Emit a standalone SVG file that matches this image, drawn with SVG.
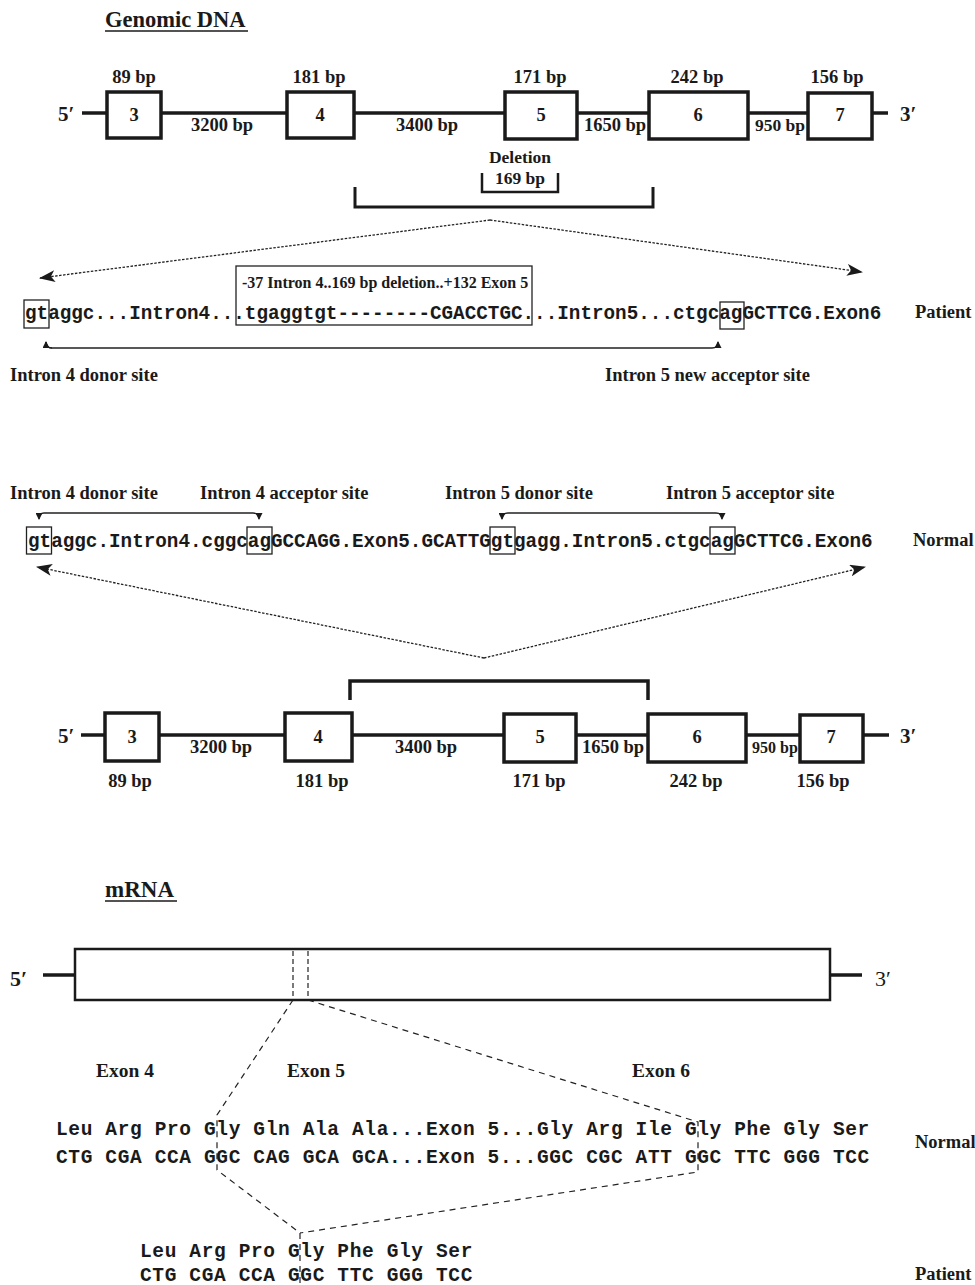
<svg xmlns="http://www.w3.org/2000/svg" width="975" height="1285" viewBox="0 0 975 1285">
<defs>
<style>
.t{font-family:"Liberation Serif","Times New Roman",serif;font-weight:bold;fill:#1a1a1a;font-size:18.5px}
.c{text-anchor:middle}
.m{font-family:"Liberation Mono","Courier New",monospace;font-weight:bold;fill:#1a1a1a;font-size:19.3px}
.aa{font-family:"Liberation Mono","Courier New",monospace;font-weight:bold;fill:#1a1a1a;font-size:19.5px;letter-spacing:0.63px}
.ln{stroke:#1a1a1a;stroke-width:3.5;fill:none}
.box{fill:#fff;stroke:#1a1a1a;stroke-width:3.5}
.br{fill:none;stroke:#1a1a1a;stroke-width:3}
.dot{fill:none;stroke:#222;stroke-width:1.3;stroke-dasharray:2.5 1.5}
.dash{fill:none;stroke:#222;stroke-width:1.2;stroke-dasharray:6 5}
.sb{fill:none;stroke:#222;stroke-width:1.3}
.thin{fill:none;stroke:#222;stroke-width:1.3}
</style>
<marker id="ah" markerUnits="userSpaceOnUse" markerWidth="16" markerHeight="12" refX="15" refY="6" orient="auto">
<path d="M0,0 L16,6 L0,12 L4,6 Z" fill="#1a1a1a"/>
</marker>
<marker id="sh" markerUnits="userSpaceOnUse" markerWidth="7" markerHeight="7" refX="6" refY="3.5" orient="auto">
<path d="M0,0 L7,3.5 L0,7 Z" fill="#1a1a1a"/>
</marker>
</defs>
<rect width="975" height="1285" fill="#fff"/>

<!-- Title -->
<g id="title-genomic">
<text class="t" x="105" y="27" style="font-size:22.5px">Genomic DNA</text>
<line x1="105" y1="31" x2="248" y2="31" stroke="#1a1a1a" stroke-width="1.6"/>
</g>

<!-- Top genomic gene (patient) -->
<g id="gene-top">
<line class="ln" x1="82" y1="113" x2="888" y2="113"/>
<text class="t" x="58" y="121" style="font-size:21px">5′</text>
<text class="t" x="900" y="121" style="font-size:21px">3′</text>
<g id="top-exon3"><rect class="box" x="107" y="92" width="54" height="46"/><text class="t c" x="134" y="121">3</text><text class="t c" x="134" y="83">89 bp</text></g>
<g id="top-exon4"><rect class="box" x="287" y="92" width="67" height="46"/><text class="t c" x="320" y="121">4</text><text class="t c" x="319" y="83">181 bp</text></g>
<g id="top-exon5"><rect class="box" x="505" y="92" width="72" height="47"/><text class="t c" x="541" y="121">5</text><text class="t c" x="540" y="83">171 bp</text></g>
<g id="top-exon6"><rect class="box" x="649" y="92" width="99" height="47"/><text class="t c" x="698" y="121">6</text><text class="t c" x="697" y="83">242 bp</text></g>
<g id="top-exon7"><rect class="box" x="808" y="93" width="64" height="46"/><text class="t c" x="840" y="121">7</text><text class="t c" x="837" y="83">156 bp</text></g>
<text class="t c" x="222" y="131">3200 bp</text>
<text class="t c" x="427" y="131">3400 bp</text>
<text class="t c" x="615" y="131">1650 bp</text>
<text class="t c" x="780" y="131" style="font-size:17.5px">950 bp</text>
<g id="deletion">
<text class="t c" x="520" y="163" style="font-size:17.5px">Deletion</text>
<text class="t c" x="520" y="184" style="font-size:17.5px">169 bp</text>
<path d="M482,173 V192 H558 V173" fill="none" stroke="#1a1a1a" stroke-width="2.5"/>
</g>
<path class="br" d="M355,187 V207 H653 V187"/>
</g>

<!-- Patient sequence -->
<g id="patient-seq">
<text class="m" x="25" y="319" xml:space="preserve">gtaggc...Intron4...tgaggtgt--------CGACCTGC...Intron5...ctgcagGCTTCG.Exon6</text>
<rect class="sb" x="24" y="300" width="25" height="28"/>
<rect class="sb" x="720" y="302" width="24" height="27"/>
<rect class="sb" x="236" y="266" width="296" height="59"/>
<text class="t" x="242" y="288" style="font-size:16px">-37 Intron 4..169 bp deletion..+132 Exon 5</text>
<text class="t" x="915" y="318">Patient</text>
<path class="thin" d="M46,342 Q46,348 52,348 H712 Q718,348 718,342" marker-end="url(#sh)"/>
<path class="thin" d="M52,348 Q46,348 46,342" marker-end="url(#sh)"/>
<text class="t" x="10" y="381">Intron 4 donor site</text>
<text class="t" x="605" y="381">Intron 5 new acceptor site</text>
</g>

<!-- Normal sequence -->
<g id="normal-seq">
<text class="t" x="10" y="499">Intron 4 donor site</text>
<text class="t" x="200" y="499">Intron 4 acceptor site</text>
<text class="t" x="445" y="499">Intron 5 donor site</text>
<text class="t" x="666" y="499">Intron 5 acceptor site</text>
<path class="thin" d="M44,513 H253 Q259,513 259,519" marker-end="url(#sh)"/>
<path class="thin" d="M44,513 Q39,513 39,519" marker-end="url(#sh)"/>
<path class="thin" d="M508,513 H716 Q722,513 722,519" marker-end="url(#sh)"/>
<path class="thin" d="M508,513 Q502,513 502,519" marker-end="url(#sh)"/>
<text class="m" x="28" y="547">gtaggc.Intron4.cggcagGCCAGG.Exon5.GCATTGgtgagg.Intron5.ctgcagGCTTCG.Exon6</text>
<rect class="sb" x="26.5" y="527" width="25" height="27"/>
<rect class="sb" x="247" y="527" width="25" height="27"/>
<rect class="sb" x="490" y="527" width="25" height="27"/>
<rect class="sb" x="710" y="527" width="25" height="27"/>
<text class="t" x="913" y="546">Normal</text>
</g>

<!-- Bottom genomic gene (normal) -->
<g id="gene-bottom">
<line class="ln" x1="81" y1="735" x2="889" y2="735"/>
<text class="t" x="58" y="743" style="font-size:21px">5′</text>
<text class="t" x="900" y="743" style="font-size:21px">3′</text>
<g id="bot-exon3"><rect class="box" x="105" y="713" width="54" height="48"/><text class="t c" x="132" y="743">3</text><text class="t c" x="130" y="787">89 bp</text></g>
<g id="bot-exon4"><rect class="box" x="285" y="713" width="67" height="48"/><text class="t c" x="318" y="743">4</text><text class="t c" x="322" y="787">181 bp</text></g>
<g id="bot-exon5"><rect class="box" x="504" y="714" width="72" height="48"/><text class="t c" x="540" y="743">5</text><text class="t c" x="539" y="787">171 bp</text></g>
<g id="bot-exon6"><rect class="box" x="648" y="714" width="98" height="48"/><text class="t c" x="697" y="743">6</text><text class="t c" x="696" y="787">242 bp</text></g>
<g id="bot-exon7"><rect class="box" x="800" y="715" width="63" height="47"/><text class="t c" x="831" y="743">7</text><text class="t c" x="823" y="787">156 bp</text></g>
<text class="t c" x="221" y="753">3200 bp</text>
<text class="t c" x="426" y="753">3400 bp</text>
<text class="t c" x="613" y="753">1650 bp</text>
<text class="t c" x="775" y="753" style="font-size:16px">950 bp</text>
<path class="ln" d="M350,700 V681 H648 V700"/>
</g>

<!-- Connectors -->
<g id="connectors">
<path class="dot" d="M490,220 L40,278" marker-end="url(#ah)"/>
<path class="dot" d="M490,220 L862,272" marker-end="url(#ah)"/>
<path class="dot" d="M484,658 L37,567" marker-end="url(#ah)"/>
<path class="dot" d="M484,658 L865,567" marker-end="url(#ah)"/>
<path class="dash" d="M293,1000 L217,1115 L217,1170 L300,1233 L300,1285"/>
<path class="dash" d="M308,1000 L698,1122 L698,1172 L300,1233"/>
</g>

<!-- mRNA -->
<g id="mrna">
<text class="t" x="105" y="897" style="font-size:23px">mRNA</text>
<line x1="105" y1="901" x2="177" y2="901" stroke="#1a1a1a" stroke-width="1.6"/>
<line class="ln" x1="43" y1="975" x2="75" y2="975"/>
<line class="ln" x1="830" y1="975" x2="862" y2="975"/>
<rect x="75" y="949" width="755" height="51" fill="none" stroke="#1a1a1a" stroke-width="2.5"/>
<line class="dash" x1="293" y1="951" x2="293" y2="998" style="stroke-dasharray:5 3"/>
<line class="dash" x1="308" y1="951" x2="308" y2="998" style="stroke-dasharray:5 3"/>
<text class="t" x="10" y="986" style="font-size:22px">5′</text>
<text class="t" x="875" y="986" style="font-size:22px;font-weight:normal">3′</text>
</g>

<!-- Protein sequences -->
<g id="protein">
<text class="t" x="96" y="1077" style="font-size:19.5px">Exon 4</text>
<text class="t" x="287" y="1077" style="font-size:19.5px">Exon 5</text>
<text class="t" x="632" y="1077" style="font-size:19.5px">Exon 6</text>
<text class="aa" x="56" y="1135" xml:space="preserve">Leu Arg Pro Gly Gln Ala Ala...Exon 5...Gly Arg Ile Gly Phe Gly Ser</text>
<text class="aa" x="56" y="1163" xml:space="preserve">CTG CGA CCA GGC CAG GCA GCA...Exon 5...GGC CGC ATT GGC TTC GGG TCC</text>
<text class="t" x="915" y="1148">Normal</text>
<text class="aa" x="140" y="1257" xml:space="preserve">Leu Arg Pro Gly Phe Gly Ser</text>
<text class="aa" x="140" y="1281" xml:space="preserve">CTG CGA CCA GGC TTC GGG TCC</text>
<text class="t" x="915" y="1280">Patient</text>
</g>
</svg>
